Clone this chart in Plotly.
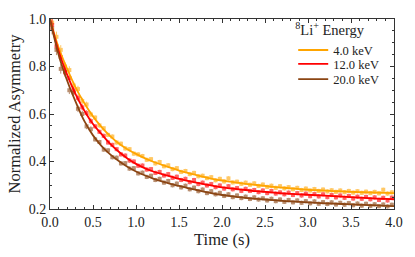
import plotly.graph_objects as go

# ---- data ----
t_fit = [0.0, 0.1, 0.2, 0.3, 0.4, 0.5, 0.6, 0.7, 0.8, 0.9, 1.0, 1.1, 1.2, 1.3, 1.4, 1.5, 1.6, 1.7, 1.8, 1.9,
         2.0, 2.1, 2.2, 2.3, 2.4, 2.5, 2.6, 2.7, 2.8, 2.9, 3.0, 3.1, 3.2, 3.3, 3.4, 3.5, 3.6, 3.7, 3.8, 3.9, 4.0]
fit_4kev = [1.0, 0.88, 0.79, 0.71, 0.645, 0.59, 0.545, 0.507, 0.476, 0.452, 0.432, 0.414, 0.399, 0.386, 0.374,
            0.362, 0.352, 0.343, 0.334, 0.326, 0.320, 0.315, 0.310, 0.305, 0.301, 0.297, 0.293, 0.290, 0.287,
            0.284, 0.281, 0.279, 0.277, 0.2755, 0.274, 0.2725, 0.271, 0.270, 0.269, 0.268, 0.267]
fit_12kev = [1.0, 0.865, 0.765, 0.682, 0.614, 0.558, 0.515, 0.474, 0.441, 0.413, 0.390, 0.372, 0.358, 0.347,
             0.337, 0.327, 0.318, 0.311, 0.304, 0.297, 0.291, 0.287, 0.283, 0.279, 0.275, 0.272, 0.269, 0.266,
             0.264, 0.262, 0.260, 0.258, 0.256, 0.254, 0.252, 0.250, 0.248, 0.246, 0.244, 0.2425, 0.241]
fit_20kev = [1.0, 0.85, 0.74, 0.65, 0.570, 0.510, 0.465, 0.430, 0.402, 0.378, 0.358, 0.342, 0.328, 0.316,
             0.306, 0.297, 0.288, 0.280, 0.272, 0.265, 0.259, 0.254, 0.250, 0.246, 0.243, 0.240, 0.237, 0.234,
             0.232, 0.230, 0.228, 0.226, 0.224, 0.2225, 0.221, 0.2195, 0.218, 0.2165, 0.215, 0.2135, 0.212]

t_data = [0.025, 0.075, 0.125, 0.175, 0.225, 0.275, 0.325, 0.375, 0.425, 0.475, 0.525, 0.575, 0.625, 0.675,
          0.725, 0.775, 0.825, 0.875, 0.925, 0.975, 1.025, 1.075, 1.125, 1.175, 1.225, 1.275, 1.325, 1.375,
          1.425, 1.475, 1.525, 1.575, 1.625, 1.675, 1.725, 1.775, 1.825, 1.875, 1.925, 1.975, 2.025, 2.075,
          2.125, 2.175, 2.225, 2.275, 2.325, 2.375, 2.425, 2.475, 2.525, 2.575, 2.625, 2.675, 2.725, 2.775,
          2.825, 2.875, 2.925, 2.975, 3.025, 3.075, 3.125, 3.175, 3.225, 3.275, 3.325, 3.375, 3.425, 3.475,
          3.525, 3.575, 3.625, 3.675, 3.725, 3.775, 3.825, 3.875, 3.925, 3.975]
data_4kev = [0.985, 0.925, 0.87, 0.80, 0.785, 0.72, 0.705, 0.655, 0.64, 0.598, 0.585, 0.552, 0.540, 0.512,
             0.505, 0.480, 0.475, 0.455, 0.452, 0.433, 0.430, 0.423, 0.407, 0.410, 0.392, 0.398, 0.380, 0.384,
             0.368, 0.372, 0.356, 0.360, 0.347, 0.352, 0.338, 0.340, 0.330, 0.334, 0.321, 0.327, 0.316, 0.329,
             0.312, 0.315, 0.306, 0.311, 0.302, 0.308, 0.297, 0.303, 0.293, 0.298, 0.289, 0.296, 0.287, 0.292,
             0.283, 0.289, 0.280, 0.286, 0.278, 0.284, 0.276, 0.282, 0.274, 0.279, 0.272, 0.278, 0.271, 0.276,
             0.269, 0.275, 0.268, 0.273, 0.267, 0.272, 0.266, 0.281, 0.265, 0.270]
data_12kev = [0.975, 0.885, 0.84, 0.775, 0.752, 0.700, 0.668, 0.628, 0.604, 0.570, 0.548, 0.525, 0.508, 0.480,
              0.470, 0.452, 0.430, 0.425, 0.404, 0.400, 0.382, 0.383, 0.366, 0.368, 0.352, 0.356, 0.341, 0.347,
              0.331, 0.336, 0.322, 0.327, 0.313, 0.322, 0.305, 0.311, 0.299, 0.305, 0.292, 0.299, 0.286, 0.296,
              0.283, 0.288, 0.276, 0.285, 0.276, 0.280, 0.271, 0.278, 0.267, 0.276, 0.265, 0.270, 0.262, 0.269,
              0.259, 0.267, 0.257, 0.265, 0.254, 0.263, 0.253, 0.262, 0.250, 0.259, 0.249, 0.257, 0.247, 0.255,
              0.244, 0.252, 0.243, 0.251, 0.241, 0.249, 0.238, 0.247, 0.236, 0.248]
data_20kev = [0.96, 0.87, 0.79, 0.78, 0.70, 0.69, 0.622, 0.600, 0.548, 0.536, 0.493, 0.482, 0.450, 0.447,
              0.418, 0.416, 0.392, 0.393, 0.370, 0.372, 0.350, 0.353, 0.335, 0.340, 0.322, 0.327, 0.311, 0.318,
              0.300, 0.307, 0.291, 0.298, 0.283, 0.290, 0.275, 0.282, 0.267, 0.275, 0.262, 0.268, 0.255, 0.262,
              0.250, 0.257, 0.246, 0.252, 0.242, 0.249, 0.240, 0.245, 0.236, 0.243, 0.233, 0.240, 0.230, 0.238,
              0.228, 0.236, 0.226, 0.233, 0.224, 0.232, 0.222, 0.229, 0.221, 0.228, 0.219, 0.226, 0.218, 0.225,
              0.216, 0.223, 0.214, 0.222, 0.213, 0.220, 0.212, 0.219, 0.211, 0.218]
err_data = [0.025, 0.022, 0.02, 0.018, 0.016, 0.015, 0.014, 0.013, 0.012, 0.012] + [0.009] * 70

labels = ["4.0 keV", "12.0 keV", "20.0 keV"]
colors = ["#FFA500", "#FF0000", "#8B4513"]
fits = [fit_4kev, fit_12kev, fit_20kev]
datas = [data_4kev, data_12kev, data_20kev]
legend_ids = ["legend", "legend2", "legend3"]

FONT = "Liberation Serif"
TXT = "#222222"

fig = go.Figure()
for lab, col, fit, dat in zip(labels, colors, fits, datas):
    fig.add_trace(go.Scatter(
        x=t_data, y=dat, mode="markers", showlegend=False, opacity=0.6,
        marker=dict(color=col, size=4, symbol="square"),
        error_y=dict(type="data", array=err_data, color=col, thickness=1, width=0),
    ))
for lab, col, fit, lg in zip(labels, colors, fits, legend_ids):
    fig.add_trace(go.Scatter(
        x=t_fit, y=fit, mode="lines", name=lab, legend=lg,
        line=dict(color=col, width=1.8, shape="spline"),
    ))

axis_common = dict(
    showline=True, linecolor="#333333", linewidth=1, mirror="ticks",
    ticks="inside", ticklen=4, tickwidth=1, tickcolor="#333333",
    showgrid=False, zeroline=False,
    tickfont=dict(family=FONT, size=14, color=TXT),
)
fig.update_xaxes(range=[0, 4], dtick=0.5, tickformat=".1f",
                 minor=dict(dtick=0.1, ticks="inside", ticklen=2, tickcolor="#333333"),
                 title=dict(text="Time (s)", font=dict(family=FONT, size=16.5, color=TXT), standoff=4),
                 **axis_common)
fig.update_yaxes(range=[0.2, 1.0], dtick=0.2, tickformat=".1f",
                 minor=dict(dtick=0.05, ticks="inside", ticklen=2, tickcolor="#333333"),
                 title=dict(text="Normalized Asymmetry", font=dict(family=FONT, size=16.5, color=TXT), standoff=3),
                 **axis_common)

leg_common = dict(xanchor="left", bgcolor="rgba(255,255,255,0)", borderwidth=0,
                  font=dict(family=FONT, size=12.5, color=TXT), itemwidth=30)
fig.update_layout(
    width=415, height=257,
    margin=dict(l=50, r=15, t=12, b=47),
    plot_bgcolor="white", paper_bgcolor="white",
    font=dict(family=FONT, size=13, color=TXT),
    legend=dict(x=0.707, y=0.884, yanchor="middle",
                title=dict(text="<sup>8</sup>Li<sup>+</sup> Energy",
                           font=dict(family=FONT, size=14.5, color=TXT)),
                **leg_common),
    legend2=dict(x=0.707, y=0.762, yanchor="middle", **leg_common),
    legend3=dict(x=0.707, y=0.682, yanchor="middle", **leg_common),
)
fig.write_html("out.html", config={"displayModeBar": False},
               post_script="document.body.style.margin='0';")
